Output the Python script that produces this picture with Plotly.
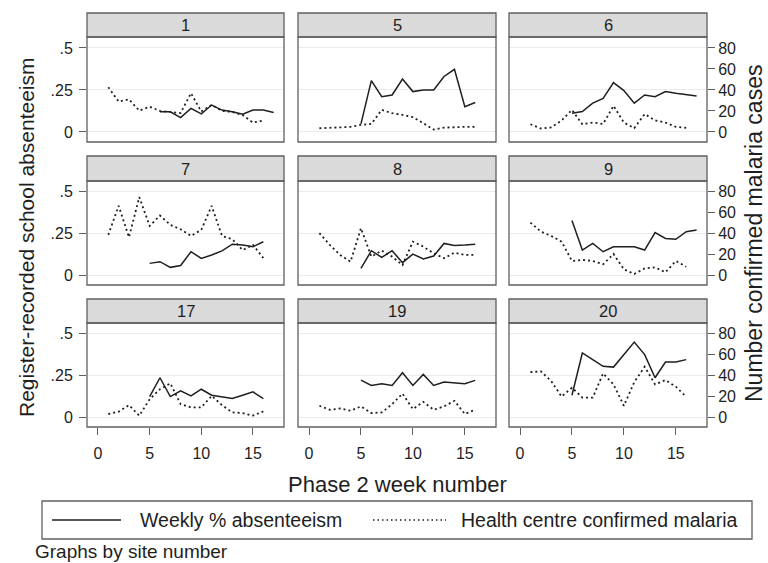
import plotly.graph_objects as go

# ---------------- data ----------------
sites = ["1", "5", "6", "7", "8", "9", "17", "19", "20"]

weeks_malaria = [1, 2, 3, 4, 5, 6, 7, 8, 9, 10, 11, 12, 13, 14, 15, 16]
weeks_5_16 = [5, 6, 7, 8, 9, 10, 11, 12, 13, 14, 15, 16]
weeks_5_17 = [5, 6, 7, 8, 9, 10, 11, 12, 13, 14, 15, 16, 17]
weeks_6_17 = [6, 7, 8, 9, 10, 11, 12, 13, 14, 15, 16, 17]

abs_site1 = [.12, .12, .085, .14, .107, .16, .13, .12, .105, .13, .13, .115]
abs_site5 = [.048, .305, .21, .22, .315, .24, .25, .25, .33, .373, .15, .175]
abs_site6 = [.111, .121, .171, .2, .293, .246, .171, .22, .21, .24, .23, .22, .214]
abs_site7 = [.07, .08, .046, .057, .14, .10, .12, .145, .185, .18, .17, .20]
abs_site8 = [.04, .146, .106, .146, .074, .126, .096, .114, .19, .177, .18, .185]
abs_site9 = [.327, .15, .19, .14, .17, .17, .17, .15, .255, .22, .215, .26, .27]
abs_site17 = [.123, .236, .123, .157, .127, .167, .131, .123, .111, .131, .151, .111]
abs_site19 = [.222, .19, .2, .19, .266, .19, .256, .19, .21, .207, .2, .22]
abs_site20 = [.131, .385, .345, .305, .30, .375, .45, .375, .236, .33, .33, .345]

mal_site1 = [42.6, 28.9, 31, 20.3, 24, 20, 19, 18, 36.9, 19.4, 25.7, 20, 19, 16, 8.9, 10.8]
mal_site5 = [3.5, 4.1, 4.4, 4.8, 6.7, 7.6, 21, 17.8, 16.2, 14, 8.3, 2.2, 4.1, 4.8, 4.8, 4.8]
mal_site6 = [7.3, 3.3, 4.3, 10.8, 21, 7.3, 8.9, 7.6, 24.8, 8.9, 3.6, 17, 11, 8.9, 4.8, 3.9]
mal_site7 = [38.6, 66.5, 36.3, 74.9, 47.2, 57.2, 48.2, 44, 37.6, 43.4, 66.5, 37.6, 34.4, 24, 28.9, 16.4]
mal_site8 = [40.2, 28.9, 19.3, 12.8, 45, 17.7, 23.4, 17.7, 9.6, 32.1, 27.3, 20.9, 16.1, 21.5, 19.3, 19.3]
mal_site9 = [50.4, 41.8, 37.6, 32.1, 13.5, 14.5, 13.5, 10.3, 20.2, 5.5, 1, 6.4, 7.4, 2.6, 13.5, 8]
mal_site17 = [2.9, 5.1, 11.4, 1.3, 17.1, 26.7, 32.4, 12.4, 9.2, 9.2, 20.3, 11.4, 4.4, 3.8, 1.3, 5.4]
mal_site19 = [10.8, 7, 8.2, 6, 10.2, 3.8, 4.4, 12.4, 22.5, 7.6, 14.6, 7, 10.2, 15.6, 2.9, 7]
mal_site20 = [43.1, 44, 34.6, 19.7, 28.2, 18.7, 18.7, 41.9, 31.4, 10.8, 33.6, 48.3, 31.4, 35.5, 29.2, 19.4]

abs_weeks = [weeks_6_17, weeks_5_16, weeks_5_17, weeks_5_16, weeks_5_16,
             weeks_5_17, weeks_5_16, weeks_5_16, weeks_5_16]
abs_values = [abs_site1, abs_site5, abs_site6, abs_site7, abs_site8,
              abs_site9, abs_site17, abs_site19, abs_site20]
mal_values = [mal_site1, mal_site5, mal_site6, mal_site7, mal_site8,
              mal_site9, mal_site17, mal_site19, mal_site20]

left_ticks = [0, 0.25, 0.5]
left_ticktext = ["0", ".25", ".5"]
right_ticks = [0, 20, 40, 60, 80]
x_ticks = [0, 5, 10, 15]

# ---------------- layout geometry (pixels) ----------------
W, H = 768, 563
col_l = [87, 298, 509]
col_r = [284, 496, 707]
hdr_top = [13, 156, 299]
plot_top = [37, 181, 323]
plot_bot = [142, 285, 427]

FONT = "Liberation Sans, Arial, Helvetica, sans-serif"
TXT = "#1e1e1e"
FRAME = "#606060"
GRID = "#ebebeb"
LINE = "#1f1f1f"

def px(x):
    return x / W

def py(y):
    return 1 - y / H

fig = go.Figure()
layout = dict(
    width=W, height=H,
    margin=dict(l=0, r=0, t=0, b=0),
    paper_bgcolor="white", plot_bgcolor="white",
    showlegend=False,
    font=dict(family=FONT, color=TXT, size=16),
)
shapes = []
annotations = []

for i, site in enumerate(sites):
    r, c = divmod(i, 3)
    xn = i + 1
    yl = 2 * i + 1
    yr = 2 * i + 2
    xname = "xaxis" if xn == 1 else f"xaxis{xn}"
    ylname = "yaxis" if yl == 1 else f"yaxis{yl}"
    yrname = f"yaxis{yr}"
    xref = "x" if xn == 1 else f"x{xn}"
    ylref = "y" if yl == 1 else f"y{yl}"
    yrref = f"y{yr}"

    layout[xname] = dict(
        domain=[px(col_l[c]), px(col_r[c])],
        anchor=ylref,
        range=[-1.06, 18.0],
        tickvals=x_ticks,
        showticklabels=(r == 2),
        ticks="outside" if r == 2 else "",
        ticklen=7, tickwidth=1, tickcolor=FRAME,
        ticklabelstandoff=5,
        tickfont=dict(size=16, color=TXT),
        showgrid=False, zeroline=False,
        showline=False,
    )
    layout[ylname] = dict(
        domain=[py(plot_bot[r]), py(plot_top[r])],
        anchor=xref,
        range=[-0.06, 0.565],
        tickvals=left_ticks, ticktext=left_ticktext,
        showticklabels=(c == 0),
        ticks="outside" if c == 0 else "",
        ticklen=7, tickwidth=1, tickcolor=FRAME,
        ticklabelstandoff=3,
        tickfont=dict(size=16, color=TXT),
        showgrid=True, gridcolor=GRID, gridwidth=1,
        zeroline=False, showline=False,
    )
    layout[yrname] = dict(
        overlaying=ylref,
        anchor=xref,
        side="right",
        range=[-9.6, 90.4],
        tickvals=right_ticks,
        showticklabels=(c == 2),
        ticks="outside" if c == 2 else "",
        ticklen=7, tickwidth=1, tickcolor=FRAME,
        tickfont=dict(size=16, color=TXT),
        showgrid=False, zeroline=False, showline=False,
    )

    fig.add_trace(go.Scatter(
        x=abs_weeks[i], y=abs_values[i], mode="lines",
        line=dict(color=LINE, width=1.5),
        xaxis=xref, yaxis=ylref, name="Weekly % absenteeism",
    ))
    fig.add_trace(go.Scatter(
        x=weeks_malaria, y=mal_values[i], mode="lines",
        line=dict(color=LINE, width=1.8, dash="2px,3px"),
        xaxis=xref, yaxis=yrref, name="Health centre confirmed malaria",
    ))

    # header strip
    shapes.append(dict(type="rect", xref="paper", yref="paper",
                       x0=px(col_l[c]), x1=px(col_r[c]),
                       y0=py(plot_top[r]), y1=py(hdr_top[r]),
                       fillcolor="#dadada", line=dict(color=FRAME, width=1.3),
                       layer="above"))
    # plot frame
    shapes.append(dict(type="rect", xref="paper", yref="paper",
                       x0=px(col_l[c]), x1=px(col_r[c]),
                       y0=py(plot_bot[r]), y1=py(plot_top[r]),
                       fillcolor="rgba(0,0,0,0)", line=dict(color=FRAME, width=1.3),
                       layer="above"))
    annotations.append(dict(text=site, xref="paper", yref="paper",
                            x=px((col_l[c] + col_r[c]) / 2),
                            y=py((hdr_top[r] + plot_top[r]) / 2),
                            xanchor="center", yanchor="middle", showarrow=False,
                            font=dict(size=16.5, color=TXT)))

# axis titles
annotations.append(dict(text="Register-recorded school absenteeism",
                        xref="paper", yref="paper", x=px(26), y=py(237),
                        textangle=-90, xanchor="center", yanchor="middle",
                        showarrow=False, font=dict(size=21, color=TXT)))
annotations.append(dict(text="Number confirmed malaria cases",
                        xref="paper", yref="paper", x=px(754), y=py(234),
                        textangle=-90, xanchor="center", yanchor="middle",
                        showarrow=False, font=dict(size=23, color=TXT)))
annotations.append(dict(text="Phase 2 week number",
                        xref="paper", yref="paper", x=px(397), y=py(484),
                        xanchor="center", yanchor="middle",
                        showarrow=False, font=dict(size=22, color=TXT)))

# legend (drawn manually to match the boxed Stata legend)
leg_y = 520
shapes.append(dict(type="rect", xref="paper", yref="paper",
                   x0=px(42), x1=px(752), y0=py(539), y1=py(501),
                   fillcolor="white", line=dict(color=FRAME, width=1.3)))
shapes.append(dict(type="line", xref="paper", yref="paper",
                   x0=px(52), x1=px(121), y0=py(leg_y), y1=py(leg_y),
                   line=dict(color=LINE, width=1.4)))
shapes.append(dict(type="line", xref="paper", yref="paper",
                   x0=px(373), x1=px(446), y0=py(leg_y), y1=py(leg_y),
                   line=dict(color=LINE, width=1.3, dash="1.5px,3px")))
annotations.append(dict(text="Weekly % absenteeism", xref="paper", yref="paper",
                        x=px(138), y=py(leg_y), xanchor="left", yanchor="middle",
                        showarrow=False, font=dict(size=19.5, color=TXT)))
annotations.append(dict(text="Health centre confirmed malaria", xref="paper", yref="paper",
                        x=px(459), y=py(leg_y), xanchor="left", yanchor="middle",
                        showarrow=False, font=dict(size=19.5, color=TXT)))
annotations.append(dict(text="Graphs by site number", xref="paper", yref="paper",
                        x=px(33), y=py(551), xanchor="left", yanchor="middle",
                        showarrow=False, font=dict(size=19, color=TXT)))

layout["shapes"] = shapes
layout["annotations"] = annotations
fig.update_layout(**layout)

fig.write_html("out.html", config={"displayModeBar": False},
               post_script="document.body.style.margin='0';")
